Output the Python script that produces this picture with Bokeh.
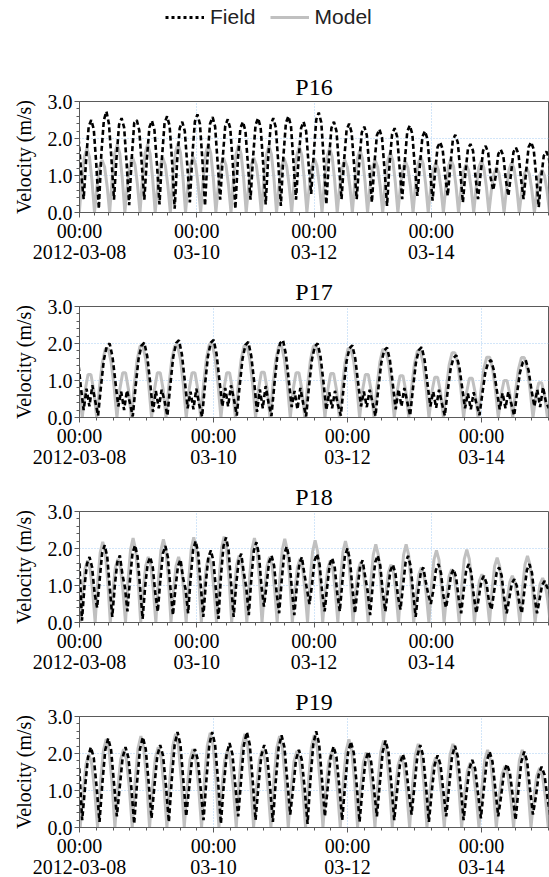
import numpy as np
from bokeh.plotting import figure
from bokeh.models import Range1d, FixedTicker, LinearAxis, Legend, LegendItem
from bokeh.layouts import column
from bokeh.embed import file_html
from bokeh.resources import INLINE

SERIF = "Liberation Serif"
SANS = "Liberation Sans"

# ---------------- data ----------------
STEP = 1.035  # hours between samples

panel_names = ["P16", "P17", "P18", "P19"]
panel_span_h = [192, 168, 192, 168]          # 2012-03-08 00:00 + hours
major_ticks_h = [0, 48, 96, 144]
time_labels = ["00:00", "00:00", "00:00", "00:00"]
date_labels = ["2012-03-08", "03-10", "03-12", "03-14"]
y_ticks = [0, 1, 2, 3]
y_labels = ["0.0", "1.0", "2.0", "3.0"]
series_names = ["Field", "Model"]

model_start_h = [-0.07, -0.055, -0.835, -0.775]
field_start_h = [-0.37, -0.59, -0.035, -0.075]

p16_model = [
    0, 0.87, 1.5, 1.73, 1.5, 0.87,
    0, 0.71, 1.23, 1.42, 1.23, 0.71,
    0, 0.92, 1.59, 1.84, 1.59, 0.92,
    0, 0.75, 1.3, 1.5, 1.3, 0.75,
    0, 0.92, 1.59, 1.84, 1.59, 0.92,
    0, 0.74, 1.28, 1.48, 1.28, 0.74,
    0, 0.94, 1.62, 1.87, 1.62, 0.94,
    0, 0.75, 1.3, 1.5, 1.3, 0.75,
    0, 0.93, 1.6, 1.85, 1.6, 0.93,
    0, 0.74, 1.28, 1.48, 1.28, 0.74,
    0, 0.92, 1.58, 1.83, 1.58, 0.92,
    0, 0.74, 1.28, 1.48, 1.28, 0.74,
    0, 0.9, 1.56, 1.8, 1.56, 0.9,
    0, 0.73, 1.26, 1.46, 1.26, 0.73,
    0, 0.89, 1.54, 1.78, 1.54, 0.89,
    0, 0.73, 1.26, 1.45, 1.26, 0.73,
    0, 0.87, 1.51, 1.74, 1.51, 0.87,
    0, 0.71, 1.23, 1.42, 1.23, 0.71,
    0, 0.85, 1.46, 1.69, 1.46, 0.85,
    0, 0.71, 1.23, 1.42, 1.23, 0.71,
    0, 0.81, 1.4, 1.62, 1.4, 0.81,
    0, 0.69, 1.2, 1.38, 1.2, 0.69,
    0, 0.76, 1.32, 1.52, 1.32, 0.76,
    0, 0.67, 1.16, 1.34, 1.16, 0.67,
    0, 0.72, 1.25, 1.44, 1.25, 0.72,
    0, 0.65, 1.13, 1.3, 1.13, 0.65,
    0, 0.7, 1.21, 1.4, 1.21, 0.7,
    0, 0.61, 1.06, 1.22, 1.06, 0.61,
    0, 0.68, 1.17, 1.35, 1.17, 0.68,
    0, 0.6, 1.04, 1.2, 1.04, 0.6,
    0, 0.58, 1.0, 1.15, 1.0, 0.58,
    0]

p16_field = [
    2.0, 1.1,
    0.36, 1.45, 2.33, 2.5, 2.25, 1.3,
    0.1, 1.6, 2.5, 2.73, 2.4, 1.45,
    0.35, 1.48, 2.37, 2.55, 2.3, 1.33,
    0.2, 1.45, 2.42, 2.5, 2.22, 1.3,
    0.35, 1.44, 2.3, 2.48, 2.23, 1.29,
    0.22, 1.5, 2.42, 2.6, 2.34, 1.35,
    0.1, 1.42, 2.28, 2.45, 2.2, 1.27,
    0.27, 1.54, 2.46, 2.65, 2.39, 1.38,
    0.18, 1.5, 2.4, 2.58, 2.32, 1.34,
    0.35, 1.46, 2.34, 2.52, 2.27, 1.31,
    0.1, 1.42, 2.28, 2.45, 2.2, 1.27,
    0.35, 1.48, 2.37, 2.55, 2.3, 1.33,
    0.22, 1.48, 2.37, 2.55, 2.3, 1.33,
    0.18, 1.51, 2.42, 2.6, 2.34, 1.35,
    0.35, 1.42, 2.28, 2.45, 2.2, 1.27,
    0.5, 1.57, 2.51, 2.7, 2.43, 1.4,
    0.22, 1.42, 2.28, 2.45, 2.2, 1.27,
    0.36, 1.39, 2.23, 2.4, 2.16, 1.25,
    0.36, 1.35, 2.16, 2.32, 2.09, 1.21,
    0.27, 1.31, 2.09, 2.25, 2.03, 1.17,
    0.18, 1.32, 2.12, 2.28, 2.05, 1.19,
    0.36, 1.36, 2.19, 2.35, 2.12, 1.22,
    0.45, 1.28, 2.05, 2.2, 1.98, 1.14,
    0.32, 1.1, 1.77, 1.9, 1.71, 0.99,
    0.45, 1.22, 1.95, 2.1, 1.89, 1.09,
    0.27, 1.07, 1.72, 1.85, 1.67, 0.96,
    0.36, 1.04, 1.67, 1.8, 1.62, 0.94,
    0.6, 0.99, 1.58, 1.7, 1.53, 0.88,
    0.45, 1.02, 1.63, 1.75, 1.58, 0.91,
    0.36, 1.1, 1.77, 1.9, 1.71, 0.99,
    0.14, 0.96, 1.53, 1.65, 1.49, 0.86]

p17_model = [
    0.7,
    0, 0.73, 1.16, 1.16, 0.73,
    0, 0.85, 1.5, 1.86, 1.86, 1.5, 0.85,
    0, 0.76, 1.21, 1.21, 0.76,
    0, 0.88, 1.56, 1.93, 1.93, 1.56, 0.88,
    0, 0.76, 1.21, 1.21, 0.76,
    0, 0.88, 1.57, 1.94, 1.94, 1.57, 0.88,
    0, 0.76, 1.21, 1.21, 0.76,
    0, 0.9, 1.6, 1.98, 1.98, 1.6, 0.9,
    0, 0.76, 1.21, 1.21, 0.76,
    0, 0.88, 1.57, 1.94, 1.94, 1.57, 0.88,
    0, 0.77, 1.22, 1.22, 0.77,
    0, 0.88, 1.56, 1.93, 1.93, 1.56, 0.88,
    0, 0.76, 1.21, 1.21, 0.76,
    0, 0.88, 1.56, 1.93, 1.93, 1.56, 0.88,
    0, 0.75, 1.19, 1.19, 0.75,
    0, 0.85, 1.5, 1.86, 1.86, 1.5, 0.85,
    0, 0.73, 1.16, 1.16, 0.73,
    0, 0.84, 1.49, 1.84, 1.84, 1.49, 0.84,
    0, 0.71, 1.13, 1.13, 0.71,
    0, 0.82, 1.46, 1.8, 1.8, 1.46, 0.82,
    0, 0.69, 1.09, 1.09, 0.69,
    0, 0.8, 1.42, 1.75, 1.75, 1.42, 0.8,
    0, 0.67, 1.06, 1.06, 0.67,
    0, 0.74, 1.32, 1.63, 1.63, 1.32, 0.74,
    0, 0.63, 1.0, 1.0, 0.63,
    0, 0.74, 1.31, 1.62, 1.62, 1.31, 0.74,
    0, 0.6, 0.94, 0.94, 0.6,
    0, 0.7]

p17_field = [
    1.6, 0.85,
    0.2, 0.78, 0.3, 0.87, 0.45, 0.05, 0.84, 1.56, 1.92, 2.0, 1.64, 0.96,
    0.3, 0.7, 0.2, 0.73, 0.4, 0.03, 0.85, 1.58, 1.94, 2.02, 1.66, 0.97,
    0.15, 0.72, 0.25, 0.75, 0.45, 0.05, 0.88, 1.63, 2.01, 2.09, 1.71, 1.0,
    0.25, 0.7, 0.22, 0.78, 0.35, 0.02, 0.88, 1.64, 2.02, 2.1, 1.72, 1.01,
    0.3, 0.8, 0.3, 0.87, 0.5, 0.05, 0.86, 1.59, 1.96, 2.04, 1.67, 0.98,
    0.15, 0.76, 0.25, 0.85, 0.4, 0.04, 0.88, 1.63, 2.01, 2.09, 1.71, 1.0,
    0.28, 0.72, 0.22, 0.8, 0.38, 0.03, 0.84, 1.56, 1.92, 2.0, 1.64, 0.96,
    0.2, 0.68, 0.25, 0.72, 0.35, 0.05, 0.82, 1.52, 1.87, 1.95, 1.6, 0.94,
    0.3, 0.7, 0.28, 0.75, 0.4, 0.04, 0.79, 1.47, 1.81, 1.89, 1.55, 0.91,
    0.22, 0.76, 0.3, 0.8, 0.42, 0.05, 0.8, 1.48, 1.82, 1.9, 1.56, 0.91,
    0.3, 0.7, 0.26, 0.75, 0.38, 0.05, 0.71, 1.31, 1.61, 1.68, 1.38, 0.81,
    0.25, 0.65, 0.22, 0.68, 0.36, 0.06, 0.65, 1.21, 1.49, 1.55, 1.27, 0.74,
    0.22, 0.66, 0.25, 0.7, 0.38, 0.05, 0.65, 1.21, 1.49, 1.55, 1.27, 0.74,
    0.3, 0.75, 0.28, 0.82, 0.42, 0.25]

p18_model = [
    1.0,
    0, 0.84, 1.45, 1.68, 1.45, 0.84,
    0, 1.09, 1.89, 2.18, 1.89, 1.09,
    0, 0.86, 1.49, 1.72, 1.49, 0.86,
    0, 1.14, 1.97, 2.28, 1.97, 1.14,
    0, 0.89, 1.53, 1.77, 1.53, 0.89,
    0, 1.13, 1.95, 2.25, 1.95, 1.13,
    0, 0.89, 1.53, 1.77, 1.53, 0.89,
    0, 1.15, 1.99, 2.3, 1.99, 1.15,
    0, 0.89, 1.53, 1.77, 1.53, 0.89,
    0, 1.16, 2.01, 2.32, 2.01, 1.16,
    0, 0.91, 1.57, 1.81, 1.57, 0.91,
    0, 1.14, 1.97, 2.28, 1.97, 1.14,
    0, 0.89, 1.53, 1.77, 1.53, 0.89,
    0, 1.13, 1.96, 2.26, 1.96, 1.13,
    0, 0.86, 1.49, 1.72, 1.49, 0.86,
    0, 1.11, 1.92, 2.22, 1.92, 1.11,
    0, 0.84, 1.45, 1.68, 1.45, 0.84,
    0, 1.1, 1.91, 2.2, 1.91, 1.1,
    0, 0.82, 1.41, 1.63, 1.41, 0.82,
    0, 1.06, 1.83, 2.11, 1.83, 1.06,
    0, 0.78, 1.35, 1.56, 1.35, 0.78,
    0, 1.06, 1.83, 2.11, 1.83, 1.06,
    0, 0.75, 1.29, 1.49, 1.29, 0.75,
    0, 0.98, 1.69, 1.95, 1.69, 0.98,
    0, 0.72, 1.25, 1.44, 1.25, 0.72,
    0, 0.99, 1.71, 1.97, 1.71, 0.99,
    0, 0.65, 1.13, 1.3, 1.13, 0.65,
    0, 0.88, 1.52, 1.75, 1.52, 0.88,
    0, 0.63, 1.09, 1.26, 1.09, 0.63,
    0, 0.9, 1.56, 1.8, 1.56, 0.9,
    0, 0.6, 1.04, 1.2, 1.04, 0.6,
    0]

p18_field = [
    1.6,
    0.05, 0.97, 1.59, 1.77, 1.5, 0.8,
    0.4, 1.15, 1.88, 2.09, 1.78, 0.94,
    0.15, 1.0, 1.63, 1.81, 1.3, 0.95,
    0.3, 1.15, 1.88, 2.09, 1.78, 0.94,
    0.1, 0.97, 1.59, 1.77, 1.5, 0.8,
    0.29, 1.14, 1.86, 2.07, 1.76, 0.93,
    0.2, 0.94, 1.53, 1.7, 1.2, 0.9,
    0.25, 1.21, 1.98, 2.2, 1.87, 0.99,
    0.15, 1.07, 1.76, 1.95, 1.66, 0.88,
    0.1, 1.27, 2.07, 2.3, 1.96, 1.04,
    0.15, 1.02, 1.67, 1.86, 1.35, 0.95,
    0.2, 1.19, 1.95, 2.17, 1.84, 0.98,
    0.43, 1.0, 1.63, 1.81, 1.54, 0.81,
    0.25, 1.13, 1.85, 2.05, 1.74, 0.92,
    0.2, 0.97, 1.59, 1.77, 1.3, 0.9,
    0.5, 1.02, 1.67, 1.85, 1.57, 0.83,
    0.3, 0.96, 1.57, 1.74, 1.48, 0.78,
    0.3, 1.1, 1.8, 2.0, 1.7, 0.9,
    0.25, 0.92, 1.51, 1.68, 1.25, 0.85,
    0.2, 1.0, 1.63, 1.81, 1.54, 0.81,
    0.3, 0.86, 1.4, 1.56, 1.33, 0.7,
    0.35, 0.99, 1.62, 1.8, 1.53, 0.81,
    0.15, 0.82, 1.34, 1.49, 1.1, 0.75,
    0.5, 0.87, 1.42, 1.58, 1.34, 0.71,
    0.4, 0.79, 1.3, 1.44, 1.22, 0.65,
    0.25, 0.87, 1.42, 1.58, 1.34, 0.71,
    0.25, 0.69, 1.13, 1.26, 1.07, 0.57,
    0.35, 0.82, 1.34, 1.49, 1.27, 0.67,
    0.25, 0.64, 1.05, 1.17, 0.99, 0.53,
    0.25, 0.87, 1.42, 1.58, 1.34, 0.71,
    0.25, 0.62, 1.01, 1.12, 0.95, 0.9,
    1.0]

p19_model = [
    1.15,
    0, 0.99, 1.71, 1.98, 1.71, 0.99,
    0, 1.2, 2.07, 2.39, 2.07, 1.2,
    0, 1.06, 1.84, 2.12, 1.84, 1.06,
    0, 1.24, 2.14, 2.47, 2.14, 1.24,
    0, 1.09, 1.88, 2.17, 1.88, 1.09,
    0, 1.27, 2.19, 2.53, 2.19, 1.27,
    0, 1.06, 1.84, 2.12, 1.84, 1.06,
    0, 1.28, 2.22, 2.56, 2.22, 1.28,
    0, 1.05, 1.82, 2.1, 1.82, 1.05,
    0, 1.27, 2.19, 2.53, 2.19, 1.27,
    0, 1.05, 1.82, 2.1, 1.82, 1.05,
    0, 1.24, 2.14, 2.47, 2.14, 1.24,
    0, 1.04, 1.79, 2.07, 1.79, 1.04,
    0, 1.25, 2.17, 2.5, 2.17, 1.25,
    0, 1.03, 1.78, 2.05, 1.78, 1.03,
    0, 1.19, 2.06, 2.38, 2.06, 1.19,
    0, 1.02, 1.76, 2.03, 1.76, 1.02,
    0, 1.18, 2.04, 2.35, 2.04, 1.18,
    0, 0.97, 1.68, 1.94, 1.68, 0.97,
    0, 1.13, 1.96, 2.26, 1.96, 1.13,
    0, 0.95, 1.64, 1.89, 1.64, 0.95,
    0, 1.13, 1.96, 2.26, 1.96, 1.13,
    0, 0.88, 1.52, 1.75, 1.52, 0.88,
    0, 1.05, 1.82, 2.1, 1.82, 1.05,
    0, 0.83, 1.44, 1.66, 1.44, 0.83,
    0, 1.05, 1.82, 2.1, 1.82, 1.05,
    0, 0.81, 1.39, 1.61, 1.39, 0.81,
    0, 1.05]

p19_field = [
    1.6,
    0.2, 1.09, 1.89, 2.17, 1.89, 1.09,
    0.15, 1.21, 2.1, 2.41, 2.1, 1.21,
    0.3, 1.09, 1.89, 2.17, 1.89, 1.09,
    0.1, 1.22, 2.12, 2.44, 2.12, 1.22,
    0.25, 1.12, 1.94, 2.23, 1.94, 1.12,
    0.15, 1.29, 2.24, 2.58, 2.24, 1.29,
    0.3, 1.06, 1.84, 2.12, 1.84, 1.06,
    0.2, 1.29, 2.24, 2.58, 2.24, 1.29,
    0.1, 1.14, 1.98, 2.28, 1.98, 1.14,
    0.3, 1.29, 2.24, 2.58, 2.24, 1.29,
    0.2, 1.12, 1.94, 2.23, 1.94, 1.12,
    0.15, 1.25, 2.17, 2.49, 2.17, 1.25,
    0.35, 1.05, 1.83, 2.1, 1.83, 1.05,
    0.1, 1.3, 2.26, 2.6, 2.26, 1.3,
    0.3, 1.1, 1.91, 2.19, 1.91, 1.1,
    0.2, 1.16, 2.02, 2.32, 2.02, 1.16,
    0.15, 1.03, 1.78, 2.05, 1.78, 1.03,
    0.3, 1.18, 2.04, 2.35, 2.04, 1.18,
    0.2, 0.99, 1.72, 1.98, 1.72, 0.99,
    0.35, 1.12, 1.94, 2.23, 1.94, 1.12,
    0.15, 0.98, 1.7, 1.95, 1.7, 0.98,
    0.3, 1.11, 1.92, 2.21, 1.92, 1.11,
    0.2, 0.92, 1.59, 1.83, 1.59, 0.92,
    0.25, 1.03, 1.78, 2.05, 1.78, 1.03,
    0.3, 0.86, 1.49, 1.71, 1.49, 0.86,
    0.2, 1.03, 1.78, 2.05, 1.78, 1.03,
    0.35, 0.82, 1.43, 1.64, 1.43, 0.82,
    0.3, 0.9]

model_values = [p16_model, p17_model, p18_model, p19_model]
field_values = [p16_field, p17_field, p18_field, p19_field]

# ---------------- styles ----------------
GRAY = "#c0c0c0"
AXIS_C = "#5a5a5a"
GRID_C = "#a6cdf3"
W = 549
LEFT = 79


def make_panel(i):
    xend = panel_span_h[i]
    p = figure(width=W, height=205, output_backend="svg", toolbar_location=None,
               x_range=Range1d(0, xend), y_range=Range1d(0, 3),
               min_border_left=LEFT, min_border_right=1, min_border_top=45,
               min_border_bottom=0, title=panel_names[i])
    p.title.align = "center"
    p.title.text_font = SERIF
    p.title.text_font_size = "24px"
    p.title.text_font_style = "normal"
    p.title.text_color = "black"
    p.title.standoff = 3

    p.outline_line_color = AXIS_C
    p.outline_line_width = 1
    p.background_fill_color = "white"

    xt = FixedTicker(ticks=major_ticks_h, minor_ticks=list(range(0, xend + 1, 6)))
    ax1 = p.xaxis[0]
    ax1.ticker = xt
    ax1.major_label_overrides = {t: l for t, l in zip(major_ticks_h, time_labels)}
    yt = FixedTicker(ticks=y_ticks, minor_ticks=[round(0.2 * k, 1) for k in range(16)])
    ay = p.yaxis[0]
    ay.ticker = yt
    ay.major_label_overrides = {t: l for t, l in zip(y_ticks, y_labels)}
    ay.axis_label = "Velocity (m/s)"
    ay.axis_label_text_font = SERIF
    ay.axis_label_text_font_size = "20px"
    ay.axis_label_text_font_style = "normal"
    ay.axis_label_text_color = "black"
    ay.axis_label_standoff = 10

    for ax in (ax1, ay):
        ax.axis_line_color = AXIS_C
        ax.major_tick_line_color = AXIS_C
        ax.minor_tick_line_color = AXIS_C
        ax.major_tick_out = 5
        ax.major_tick_in = 0
        ax.minor_tick_out = 3
        ax.minor_tick_in = 0
        ax.major_label_text_font = SERIF
        ax.major_label_text_font_size = "20px"
        ax.major_label_text_color = "black"
        ax.major_label_standoff = 2

    ax2 = LinearAxis(ticker=FixedTicker(ticks=major_ticks_h),
                     major_label_overrides={t: l for t, l in zip(major_ticks_h, date_labels)},
                     axis_line_color=None, major_tick_line_color=None,
                     minor_tick_line_color=None, major_tick_out=0, minor_tick_out=0,
                     major_tick_in=0, minor_tick_in=0,
                     major_label_standoff=0, major_label_text_font=SERIF,
                     major_label_text_font_size="20px", major_label_text_color="black")
    p.add_layout(ax2, "below")

    p.xgrid.ticker = FixedTicker(ticks=major_ticks_h)
    p.ygrid.ticker = FixedTicker(ticks=y_ticks)
    for g in (p.xgrid, p.ygrid):
        g.grid_line_color = GRID_C
        g.grid_line_dash = "1 2"
        g.grid_line_width = 1

    mv = model_values[i]
    fv = field_values[i]
    xm = model_start_h[i] + STEP * np.arange(len(mv))
    xf = field_start_h[i] + STEP * np.arange(len(fv))
    p.line(xm, mv, line_color=GRAY, line_width=3)
    p.line(xf, fv, line_color="black", line_width=2.6, line_dash="5 3")
    return p


# legend strip (its frame is aligned with the panels' frames)
lg = figure(width=W, height=56, output_backend="svg", toolbar_location=None,
            x_range=Range1d(0, 1), y_range=Range1d(0, 1),
            x_axis_location=None, y_axis_location=None,
            min_border_left=LEFT, min_border_right=1, min_border_top=0, min_border_bottom=0)
lg.grid.visible = False
lg.outline_line_color = None
r_field = lg.line(x=[5, 6], y=[5, 6], line_color="black", line_width=3, line_dash="3 3")
r_model = lg.line(x=[5, 6], y=[5, 6], line_color=GRAY, line_width=3)
leg = Legend(items=[LegendItem(label=series_names[0], renderers=[r_field]),
                    LegendItem(label=series_names[1], renderers=[r_model])],
             orientation="horizontal", location=(165 - LEFT, 27),
             glyph_width=39, glyph_height=20, label_standoff=6, spacing=14,
             padding=0, margin=0, border_line_color=None, background_fill_alpha=0,
             label_text_font=SANS, label_text_font_size="21px", label_text_color="#222222")
lg.add_layout(leg, "center")

panels = [make_panel(i) for i in range(4)]
layout = column(lg, *panels)

open("out.html", "w").write(file_html(layout, INLINE))
